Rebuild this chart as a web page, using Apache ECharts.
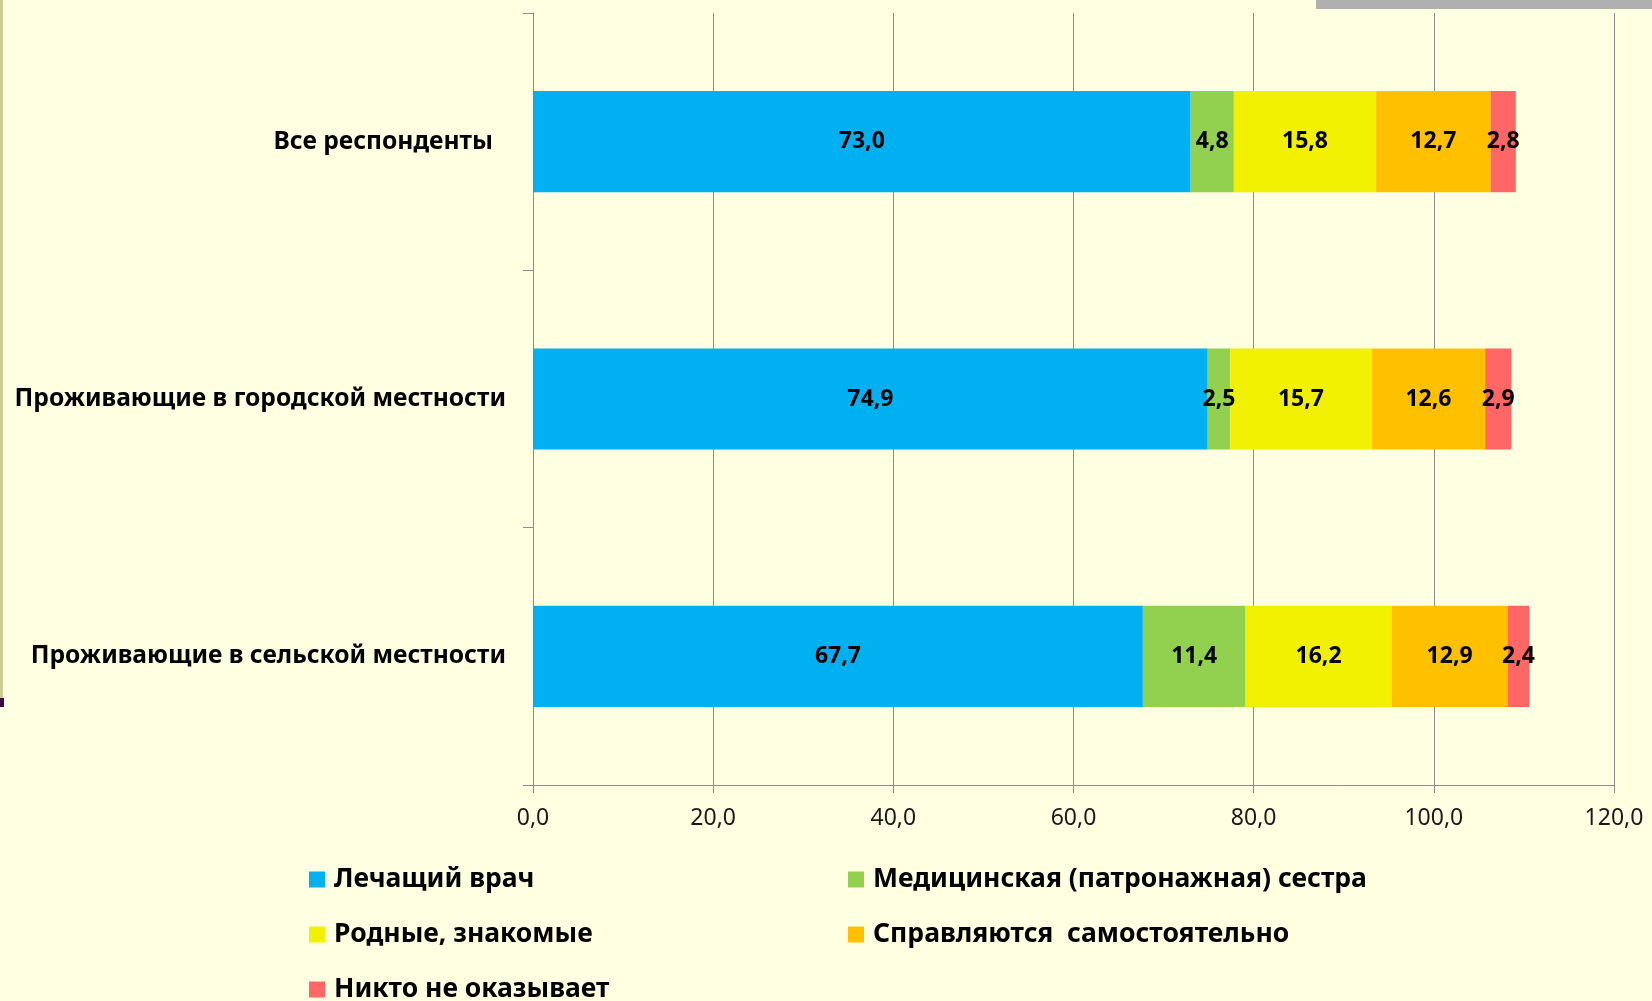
<!DOCTYPE html>
<html>
<head>
<meta charset="utf-8">
<script src="https://cdn.jsdelivr.net/npm/echarts@6/dist/echarts.min.js"></script>
<style>
  html, body { margin: 0; padding: 0; background: #ffffe1; }
  #chart { width: 1652px; height: 1001px; }
</style>
</head>
<body>
<div id="chart"></div>
<script>
  // категории (сверху вниз)
  var categories = ['Все респонденты', 'Проживающие в городской местности', 'Проживающие в сельской местности'];
  var seriesNames = ['Лечащий врач', 'Медицинская (патронажная) сестра', 'Родные, знакомые', 'Справляются  самостоятельно', 'Никто не оказывает'];
  var doctor = [73.0, 74.9, 67.7];
  var nurse = [4.8, 2.5, 11.4];
  var relatives = [15.8, 15.7, 16.2];
  var selfHelp = [12.7, 12.6, 12.9];
  var nobody = [2.8, 2.9, 2.4];
  var xTicks = [0, 20, 40, 60, 80, 100, 120];

  var colors = ['#00b0f0', '#92d050', '#f0f000', '#ffc000', '#ff6666'];
  var values = [doctor, nurse, relatives, selfHelp, nobody];
  var font = '"Noto Sans", sans-serif';

  function fmt(v) {
    return Number(v).toFixed(1).replace('.', ',');
  }

  var legendText = {color: '#000', fontFamily: font, fontWeight: 'bold', fontSize: 26.5, lineHeight: 24, padding: [0, 0, 0, 4]};

  var chart = echarts.init(document.getElementById('chart'));
  chart.setOption({
    backgroundColor: '#ffffe1',
    animation: false,
    color: colors,
    grid: {
      left: 533,
      right: 38,
      top: 13,
      bottom: 216,
    },
    xAxis: {
      type: 'value',
      min: xTicks[0],
      max: xTicks[xTicks.length - 1],
      interval: xTicks[1] - xTicks[0],
      axisLine: {show: true, lineStyle: {color: '#8c8c8c', width: 1}},
      axisTick: {show: true, length: 8, lineStyle: {color: '#8c8c8c'}},
      splitLine: {show: true, lineStyle: {color: '#8c8c8c', width: 1}},
      axisLabel: {
        margin: 22,
        color: '#1a1a1a',
        fontFamily: font,
        fontSize: 23,
        formatter: fmt,
      },
    },
    yAxis: {
      type: 'category',
      inverse: true,
      data: categories,
      axisLine: {show: true, lineStyle: {color: '#8c8c8c', width: 1}},
      axisTick: {show: true, length: 10, lineStyle: {color: '#8c8c8c'}},
      axisLabel: {
        margin: 27,
        color: '#000',
        fontFamily: font,
        fontWeight: 'bold',
        fontSize: 24.6,
        formatter: function (v, i) {
          return i === 0 ? '{pad|' + v + '}' : v;
        },
        rich: {
          pad: {
            padding: [0, 13, 0, 0],
            color: '#000',
            fontFamily: font,
            fontWeight: 'bold',
            fontSize: 24.6,
          },
        },
      },
    },
    legend: [
      {
        left: 309,
        top: 866,
        height: 160,
        padding: 0,
        orient: 'vertical',
        itemWidth: 16,
        itemHeight: 16,
        itemGap: 28,
        icon: 'rect',
        data: [seriesNames[0], seriesNames[2], seriesNames[4]],
        textStyle: legendText,
      },
      {
        left: 848,
        top: 866,
        height: 160,
        padding: 0,
        orient: 'vertical',
        itemWidth: 16,
        itemHeight: 16,
        itemGap: 28,
        icon: 'rect',
        data: [seriesNames[1], seriesNames[3]],
        textStyle: legendText,
      },
    ],
    graphic: [
      {type: 'rect', left: 0, top: 0, shape: {width: 3, height: 698}, style: {fill: '#cccc99'}},
      {type: 'rect', left: 0, top: 698, shape: {width: 4, height: 9}, style: {fill: '#3d0a3d'}},
      {type: 'rect', left: 1316, top: 0, shape: {width: 336, height: 9}, style: {fill: '#b0b0b0'}},
    ],
    series: seriesNames.map(function (name, i) {
      return {
        name: name,
        type: 'bar',
        stack: 'total',
        barWidth: '39.3%',
        data: values[i],
        label: {
          show: true,
          position: 'inside',
          color: '#000',
          fontFamily: font,
          fontWeight: 'bold',
          fontSize: 23,
          formatter: function (p) {
            return fmt(p.value);
          },
        },
      };
    }),
  });
</script>
</body>
</html>
